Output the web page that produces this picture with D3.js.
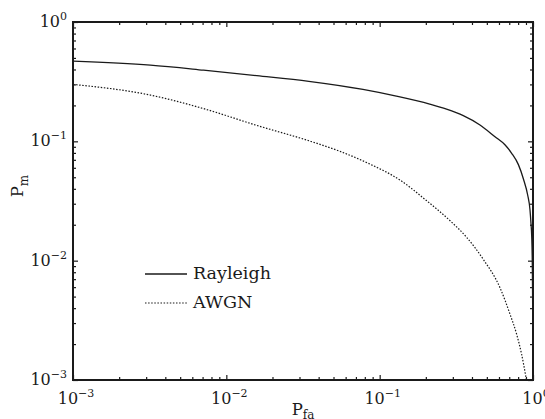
<!DOCTYPE html>
<html><head><meta charset="utf-8">
<script src="https://cdn.jsdelivr.net/npm/d3@7"></script>
<style>
html,body{margin:0;padding:0;background:#fff;}
</style></head>
<body><svg id="chart" width="545" height="419"></svg>
<script>
// ---- data ----
const rayleighPfa = [0.001, 0.0032, 0.0071, 0.0158, 0.0345, 0.0778, 0.1285, 0.212, 0.273, 0.351, 0.451, 0.565, 0.656, 0.726, 0.803, 0.866, 0.923, 0.956, 0.970, 0.981, 0.9895, 0.997, 0.9995];
const rayleighPm  = [0.470, 0.435, 0.395, 0.355, 0.318, 0.272, 0.239, 0.205, 0.186, 0.164, 0.137, 0.1093, 0.0935, 0.0794, 0.0638, 0.0484, 0.0355, 0.0266, 0.0206, 0.0159, 0.0096, 0.003, 0.001];
const awgnPfa = [0.001, 0.0032, 0.0071, 0.0158, 0.0355, 0.055, 0.083, 0.137, 0.2018, 0.287, 0.369, 0.473, 0.608, 0.708, 0.782, 0.843, 0.90, 0.906];
const awgnPm  = [0.300, 0.244, 0.188, 0.136, 0.100, 0.0825, 0.066, 0.047, 0.0319, 0.0217, 0.0157, 0.0103, 0.00597, 0.00356, 0.00242, 0.00164, 0.00105, 0.001];
const seriesNames = ["Rayleigh", "AWGN"];
const xTickExps = [-3, -2, -1, 0];
const yTickExps = [-3, -2, -1, 0];
const xLabel = ["P", "fa"];
const yLabel = ["P", "m"];

// ---- layout ----
const svg = d3.select("#chart");
const FONT = "DejaVu Serif";
const L = 73, R = 533, T = 22, B = 380;
const x = d3.scaleLog().domain([1e-3, 1]).range([L, R]);
const y = d3.scaleLog().domain([1e-3, 1]).range([B, T]);
const ink = "#1a1a1a";

svg.append("defs").append("clipPath").attr("id", "clip")
  .append("rect").attr("x", L).attr("y", T).attr("width", R - L).attr("height", B - T);

const minor = [];
for (let e = -3; e < 0; e++) for (let k = 2; k <= 9; k++) minor.push(k * Math.pow(10, e));
const major = xTickExps.map(e => Math.pow(10, e));

function tickAxis(axisFn, scale, tr, vals, size) {
  const g = svg.append("g").attr("transform", tr)
    .call(axisFn(scale).tickValues(vals).tickSize(size).tickFormat(""));
  g.select(".domain").remove();
  g.selectAll(".tick line").attr("stroke", ink).attr("stroke-width", 1.2);
}
tickAxis(d3.axisBottom, x, `translate(0,${B})`, minor, -3);
tickAxis(d3.axisBottom, x, `translate(0,${B})`, major, -5);
tickAxis(d3.axisTop, x, `translate(0,${T})`, minor, -3);
tickAxis(d3.axisTop, x, `translate(0,${T})`, major, -5);
tickAxis(d3.axisLeft, y, `translate(${L},0)`, minor, -3);
tickAxis(d3.axisLeft, y, `translate(${L},0)`, major, -5);
tickAxis(d3.axisRight, y, `translate(${R},0)`, minor, -3);
tickAxis(d3.axisRight, y, `translate(${R},0)`, major, -5);

svg.append("rect").attr("x", L).attr("y", T).attr("width", R - L).attr("height", B - T)
  .attr("fill", "none").attr("stroke", ink).attr("stroke-width", 2);

function txt(sel) { return sel.attr("font-family", FONT).attr("fill", ink); }

xTickExps.forEach(e => {
  const t = txt(svg.append("text")).attr("x", x(Math.pow(10, e)) + 3).attr("y", 404)
    .attr("text-anchor", "middle").attr("font-size", 16);
  t.append("tspan").text("10");
  t.append("tspan").attr("dy", -7).attr("font-size", 11).text(e === 0 ? "0" : "\u2212" + (-e));
});
yTickExps.forEach(e => {
  const t = txt(svg.append("text")).attr("x", 67).attr("y", y(Math.pow(10, e)) + 5)
    .attr("text-anchor", "end").attr("font-size", 16);
  t.append("tspan").text("10");
  t.append("tspan").attr("dy", -7).attr("font-size", 11).text(e === 0 ? "0" : "\u2212" + (-e));
});

const xl = txt(svg.append("text")).attr("x", 303).attr("y", 415).attr("text-anchor", "middle").attr("font-size", 16.5);
xl.append("tspan").text(xLabel[0]);
xl.append("tspan").attr("dy", 4).attr("font-size", 12).text(xLabel[1]);
const yl = txt(svg.append("text")).attr("transform", "translate(23,186) rotate(-90)")
  .attr("text-anchor", "middle").attr("font-size", 16.5);
yl.append("tspan").text(yLabel[0]);
yl.append("tspan").attr("dy", 5).attr("font-size", 12).text(yLabel[1]);

const line = d3.line().x(d => x(d[0])).y(d => y(d[1])).curve(d3.curveMonotoneX);
const plot = svg.append("g").attr("clip-path", "url(#clip)");
plot.append("path").datum(rayleighPfa.map((p, i) => [p, rayleighPm[i]]))
  .attr("d", line).attr("fill", "none").attr("stroke", ink).attr("stroke-width", 1.3);
plot.append("path").datum(awgnPfa.map((p, i) => [p, awgnPm[i]]))
  .attr("d", line).attr("fill", "none").attr("stroke", ink).attr("stroke-width", 1.2)
  .attr("stroke-dasharray", "1.5,1.6");

const leg = [{y: 274, dash: null, w: 1.3}, {y: 303, dash: "1.5,1.6", w: 1.2}];
leg.forEach((d, i) => {
  svg.append("line").attr("x1", 145).attr("x2", 187).attr("y1", d.y).attr("y2", d.y)
    .attr("stroke", ink).attr("stroke-width", d.w).attr("stroke-dasharray", d.dash);
  txt(svg.append("text")).attr("x", 193).attr("y", d.y + 5).attr("font-size", 17.5).text(seriesNames[i]);
});
</script></body></html>
